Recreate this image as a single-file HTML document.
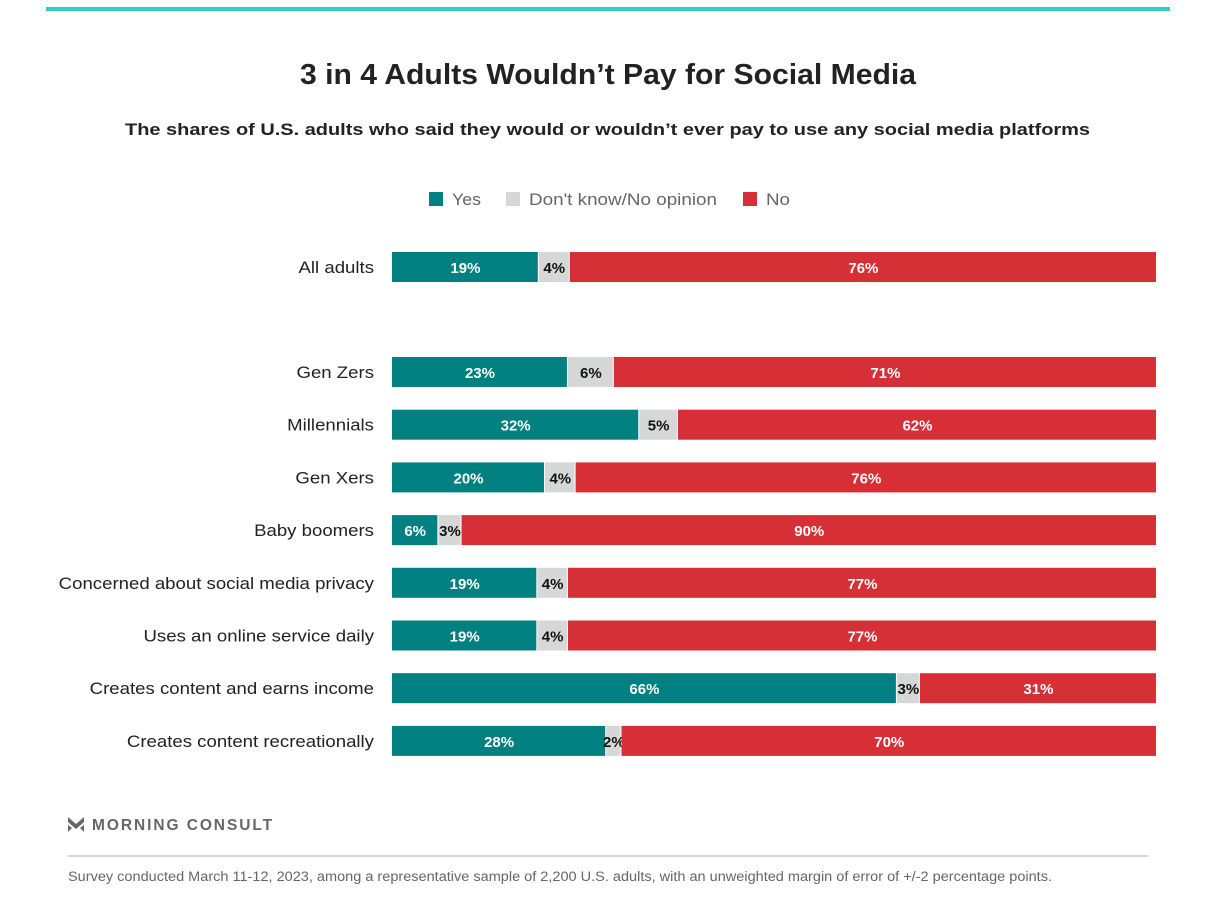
<!DOCTYPE html>
<html><head><meta charset="utf-8">
<style>
body{margin:0;background:#fff;font-family:"Liberation Sans",sans-serif;}
#wrap{position:relative;width:1230px;height:913px;overflow:hidden;}
</style></head>
<body>
<div id="wrap">
<svg id="chart" width="1230" height="913" xmlns="http://www.w3.org/2000/svg">
  <rect x="46" y="7" width="1124" height="4" fill="#2ccfc0"/>
  <text x="300" y="84" textLength="616" lengthAdjust="spacingAndGlyphs" font-size="29" font-weight="bold" fill="#222">3 in 4 Adults Wouldn’t Pay for Social Media</text>
  <text x="125" y="135" textLength="965" lengthAdjust="spacingAndGlyphs" font-size="17" font-weight="bold" fill="#222">The shares of U.S. adults who said they would or wouldn’t ever pay to use any social media platforms</text>
  <g>
    <rect x="429" y="192" width="14" height="14" fill="#008080"/>
    <text x="452" y="205" textLength="29" lengthAdjust="spacingAndGlyphs" font-size="17" fill="#666">Yes</text>
    <rect x="506" y="192" width="14" height="14" fill="#d6d8d8"/>
    <text x="529" y="205" textLength="188" lengthAdjust="spacingAndGlyphs" font-size="17" fill="#666">Don't know/No opinion</text>
    <rect x="743" y="192" width="14" height="14" fill="#d62f35"/>
    <text x="766" y="205" textLength="24" lengthAdjust="spacingAndGlyphs" font-size="17" fill="#666">No</text>
  </g>
  <g id="bars"></g>
  <g>
    <path d="M68 817 L76 824 L84 817 L84 822 L76 829 L68 822 Z M68 825 L72 828 L68 832 Z M84 825 L80 828 L84 832 Z" fill="#666"/>
    <text x="92" y="830" textLength="182" lengthAdjust="spacingAndGlyphs" font-size="16" font-weight="bold" fill="#666" letter-spacing="2">MORNING CONSULT</text>
  </g>
  <line x1="68" y1="856" x2="1148" y2="856" stroke="#aaa" stroke-width="1"/>
  <text x="68" y="881" textLength="984" lengthAdjust="spacingAndGlyphs" font-size="13.5" fill="#666">Survey conducted March 11-12, 2023, among a representative sample of 2,200 U.S. adults, with an unweighted margin of error of +/-2 percentage points.</text>
</svg>
</div>
<script>
const categories = ["All adults","Gen Zers","Millennials","Gen Xers","Baby boomers","Concerned about social media privacy","Uses an online service daily","Creates content and earns income","Creates content recreationally"];
const yesValues = [19,23,32,20,6,19,19,66,28];
const dkValues = [4,6,5,4,3,4,4,3,2];
const noValues = [76,71,62,76,90,77,77,31,70];
const rowSlots = [0,2,3,4,5,6,7,8,9];

const x0 = 392, plotW = 765, barH = 30;
const rowY = s => 252 + (s === 0 ? 0 : 105 + (s - 2) * 52.7);
const g = document.getElementById('bars');
const NS = 'http://www.w3.org/2000/svg';
function mk(tag, attrs){const e=document.createElementNS(NS,tag);for(const k in attrs)e.setAttribute(k,attrs[k]);return e;}
categories.forEach((cat,i)=>{
  const y = rowY(rowSlots[i]);
  const total = yesValues[i]+dkValues[i]+noValues[i];
  const xs = v => v/total*plotW;
  const lab = mk('text',{x:374,y:y+21,'text-anchor':'end','font-size':17,fill:'#222'});
  
  
  lab.textContent = cat; g.appendChild(lab);
  const L = lab.getComputedTextLength();
  lab.setAttribute('textLength', (L*1.094).toFixed(1));
  lab.setAttribute('lengthAdjust', 'spacingAndGlyphs');
  const segs = [[yesValues[i],'#008080','#fff','bar-yes'],[dkValues[i],'#d6d8d8','#111','bar-dont-know'],[noValues[i],'#d62f35','#fff','bar-no']];
  let cx = x0;
  segs.forEach(([v,fill,tc,name])=>{
    const w = xs(v);
    const r = mk('rect',{x:cx,y:y,width:Math.max(w-1,0),height:barH,fill:fill});
    
    
    g.appendChild(r);
    const t = mk('text',{x:cx+w/2,y:y+21,'text-anchor':'middle','font-size':15,'font-weight':'bold',fill:tc});
    
    
    t.textContent = v+'%'; g.appendChild(t);
    cx += w;
  });
});
</script>
</body></html>
